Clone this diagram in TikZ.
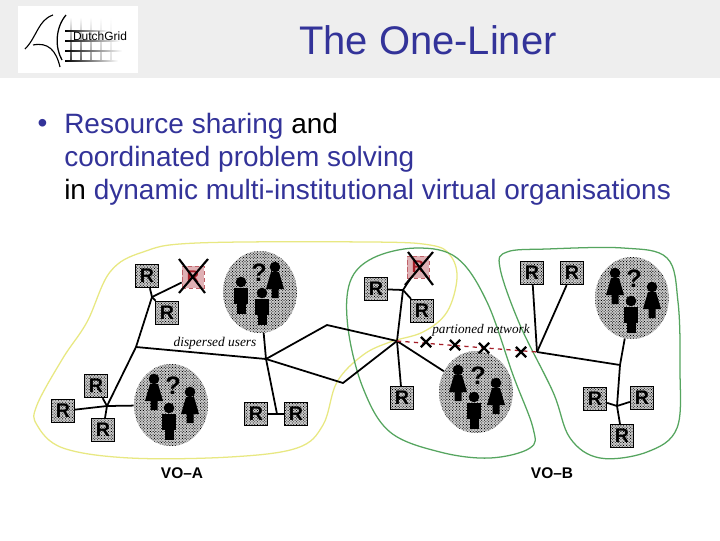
\documentclass[tikz,border=0pt]{standalone}
\usepackage{fontspec}
\setmainfont{Liberation Sans}
\newfontfamily\serifit{Liberation Serif}
\usepackage{tikz}
\usetikzlibrary{shapes.geometric,shapes.misc,patterns.meta}
\definecolor{hdrgrey}{RGB}{238,238,238}
\definecolor{titleblue}{RGB}{51,51,153}
\definecolor{linkred}{RGB}{165,30,40}
\definecolor{voyellow}{RGB}{232,232,130}
\definecolor{vogreen}{RGB}{85,165,95}
\definecolor{hatch}{RGB}{205,205,205}

% one person, given the centre of the head
\newcommand{\manfig}[2]{
  \fill (#1,#2) circle (5.3);
  \fill (#1-7,#2+6) rectangle (#1+7,#2+22);
  \fill (#1-4.5,#2+22) rectangle (#1+4.5,#2+32);
}
\newcommand{\womanfig}[2]{
  \fill (#1,#2) circle (5.3);
  \fill (#1-4,#2+5) -- (#1+4,#2+5) -- (#1+9,#2+22) -- (#1+3.5,#2+22) -- (#1+3.5,#2+31) -- (#1-3.5,#2+31) -- (#1-3.5,#2+22) -- (#1-9,#2+22) -- cycle;
}

\begin{document}
\begin{tikzpicture}[x=0.025cm,y=-0.025cm,
  rbox/.style={draw, thick, preaction={fill=hatch}, pattern={Dots[distance=1.4pt, radius=0.42pt, angle=45]}, minimum size=0.58cm, inner sep=0pt, font=\bfseries\fontsize{14}{14}\selectfont},
  lostbox/.style={draw=linkred!70, densely dashed, fill=linkred!35, minimum size=0.55cm, inner sep=0pt, text=linkred, font=\bfseries\fontsize{12}{12}\selectfont},
  usercloud/.style={ellipse, preaction={fill=hatch}, pattern={Dots[distance=1.4pt, radius=0.42pt, angle=45]}, minimum width=1.85cm, minimum height=2.05cm, inner sep=0pt},
  query/.style={font=\bfseries\fontsize{18}{18}\selectfont, inner sep=0pt},
  net/.style={line width=1.25pt},
  lost/.style={line width=1.5pt},
  cutmark/.style={cross out, draw, line width=1.6pt, minimum size=0.2cm, inner sep=0pt},
  tag/.style={font=\bfseries\fontsize{11}{11}\selectfont},
  vo/.style={line width=0.9pt},
  body/.style={anchor=west, inner sep=0pt, font=\fontsize{19.9}{24}\selectfont, text=titleblue}
]
\useasboundingbox (0,0) rectangle (720,540);
\fill[white] (0,0) rectangle (720,540);

% header
\fill[hdrgrey] (0,0) rectangle (720,78);
\node[fill=white, minimum width=3cm, minimum height=1.68cm, inner sep=0pt] (logo) at (78,39.5) {};
\foreach \i/\g in {71/75,81/60,91/40,101/25,111/12}
  \shade[top color=white, bottom color=black!\g] (\i-0.3,17) rectangle (\i+0.3,61);
\foreach \i/\e in {31/108,41/120,51/122,61/118}
  \shade[left color=black, right color=white] (65,\i-0.3) rectangle (\e,\i+0.3);
\draw[line width=0.8pt] (25,49) .. controls (37,37) and (38,20) .. (53,15);
\draw[line width=0.8pt] (33,45) .. controls (48,42) and (56,50) .. (60,67);
\draw[line width=0.9pt] (66,15) .. controls (55,28) and (55,48) .. (62,60);
\node[inner sep=0.5pt, font=\fontsize{8.5}{8.5}\selectfont] (logotext) at (100,36) {DutchGrid};
\node[text=titleblue, font=\fontsize{28.4}{28.4}\selectfont, inner sep=0pt] (title) at (428,40) {The One-Liner};

% bullet text
\node[inner sep=0pt, font=\fontsize{19.9}{24}\selectfont, text=titleblue] (bullet) at (42.5,126) {•};
\node[body] (line1) at (64,126) {Resource sharing {\color{black}and}};
\node[body] (line2) at (64,159) {coordinated problem solving};
\node[body] (line3) at (64,192) {{\color{black}in} dynamic multi-institutional virtual organisations};

% virtual organisations
\draw[voyellow, vo] plot[smooth cycle, tension=0.6] coordinates {(370,242) (197,243) (143,252) (110,272) (87,322) (63,358) (37,405) (37,425) (63,448) (130,458) (230,457) (297,448) (323,425) (337,382) (363,355) (390,342) (423,332) (447,312) (457,278) (450,255) (430,245)};
\draw[vogreen, vo] plot[smooth cycle, tension=0.6] coordinates {(417,248) (373,258) (350,282) (348,328) (363,388) (390,432) (440,452) (490,458) (530,448) (533,428) (513,375) (487,302) (457,258)};
\draw[vogreen, vo] plot[smooth cycle, tension=0.6] coordinates {(547,249) (507,252) (500,268) (520,325) (553,392) (570,438) (600,458) (647,452) (677,428) (680,368) (678,302) (667,258) (623,248)};

% users
\node[usercloud] (usersa) at (260,292) {};
\node[usercloud] (usersb) at (171,405) {};
\node[usercloud] (usersc) at (476,392) {};
\node[usercloud] (usersd) at (632,298) {};
\node[query] (querya) at (259,273) {?};
\node[query] (queryb) at (173,386) {?};
\node[query] (queryc) at (478,376) {?};
\node[query] (queryd) at (634,279) {?};
\manfig{241}{282}
\womanfig{275}{267}
\manfig{262}{293}
\womanfig{154}{379}
\womanfig{190}{392}
\manfig{169}{408}
\womanfig{458}{370}
\womanfig{496}{383}
\manfig{474}{397}
\womanfig{615}{273}
\womanfig{652}{287}
\manfig{631}{301}

% resources
\node[rbox] (ra) at (147,276) {R};
\node[rbox] (rb) at (167,313) {R};
\node[rbox] (rc) at (96,386) {R};
\node[rbox] (rd) at (63,411) {R};
\node[rbox] (re) at (103,430) {R};
\node[rbox] (rf) at (256,414) {R};
\node[rbox] (rg) at (296,414) {R};
\node[rbox] (rh) at (376,289) {R};
\node[rbox] (ri) at (422,311) {R};
\node[rbox] (rj) at (402,398) {R};
\node[rbox] (rk) at (532,273) {R};
\node[rbox] (rl) at (572,273) {R};
\node[rbox] (rm) at (595,399) {R};
\node[rbox] (rn) at (642,398) {R};
\node[rbox] (ro) at (622,436) {R};
\node[lostbox] (lostl) at (193,277) {R};
\node[lostbox] (lostr) at (418,267) {R};
\draw[lost] (179,259) -- (205,293) (208,259) -- (179,293);
\draw[lost] (408,252) -- (433,285) (433,252) -- (405,285);

% junctions
\coordinate (ja) at (152,297);
\coordinate (jb) at (136,347);
\coordinate (jc) at (107,406);
\coordinate (jd) at (266,359);
\coordinate (je) at (327,325);
\coordinate (jf) at (397,341);
\coordinate (jg) at (403,290);
\coordinate (jh) at (537,352);
\coordinate (ji) at (620,365);
\coordinate (jj) at (617,406);
\coordinate (jk) at (343,383);
\coordinate (jl) at (277,414);

\draw[net] (ra) -- (ja);
\draw[net] (rb) -- (ja);
\draw[net] (lostl) -- (ja) -- (jb) -- (jc);
\draw[net] (jc) -- (rc);
\draw[net] (jc) -- (rd);
\draw[net] (jc) -- (re);
\draw[net] (jc) -- (usersb);
\draw[net] (jb) -- (jd) -- (usersa);
\draw[net] (jd) -- (jl);
\draw[net] (rf) -- (rg);
\draw[net] (jd) -- (je) -- (jf);
\draw[net] (jd) -- (jk) -- (jf);
\draw[net] (jf) -- (jg);
\draw[net] (rh) -- (jg);
\draw[net] (jg) -- (ri);
\draw[net] (jg) -- (lostr);
\draw[net] (jf) -- (rj);
\draw[net] (jf) -- (usersc);
\draw[linkred, dashed, line width=0.9pt] (jf) -- (jh);
\draw[net] (rk) -- (jh);
\draw[net] (rl) -- (jh);
\draw[net] (jh) -- (ji);
\draw[net] (ji) -- (usersd);
\draw[net] (ji) -- (jj);
\draw[net] (jj) -- (rm);
\draw[net] (jj) -- (rn);
\draw[net] (jj) -- (ro);

% cuts
\foreach \n/\x/\y in {cuta/426/342,cutb/455/345,cutc/484/348,cutd/521/352}
  \node[cutmark] (\n) at (\x,\y) {};

% labels
\node[font=\serifit\itshape\fontsize{9.5}{9.5}\selectfont, inner sep=0pt] (dispersed) at (215,343) {dispersed users};
\node[font=\serifit\itshape\fontsize{9.4}{9.4}\selectfont, inner sep=0pt] (partioned) at (481,330) {partioned network};
\node[tag] (voa) at (182,473) {VO--A};
\node[tag] (vob) at (552,473) {VO--B};
\end{tikzpicture}
\end{document}
